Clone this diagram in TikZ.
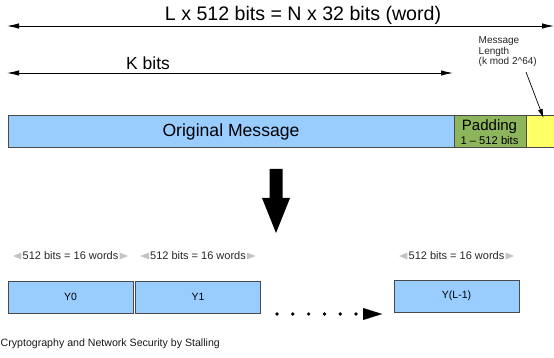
\documentclass[tikz,border=0pt]{standalone}
\usepackage{fontspec}
\setmainfont{Liberation Sans}
\usetikzlibrary{arrows.meta}
\definecolor{blk}{HTML}{99CCFF}
\definecolor{grn}{HTML}{8DB55C}
\definecolor{ylw}{HTML}{FFFF66}
\definecolor{brd}{HTML}{4A4A4A}
\definecolor{lgray}{HTML}{C4C4C4}
\begin{document}
\begin{tikzpicture}[x=1pt,y=-1pt,
  dim/.style={draw=black,line width=0.9pt,{Latex[length=12pt,width=5.5pt]}-{Latex[length=12pt,width=5.5pt]}},
  seg/.style={draw=brd,line width=0.9pt,minimum height=32pt,inner sep=0pt,anchor=center},
  blockbox/.style={draw=brd,line width=0.9pt,fill=blk,minimum width=125pt,minimum height=32pt,inner sep=0pt,font=\fontsize{10.5}{12}\selectfont},
  wlabel/.style={inner sep=0.5pt,text=black!85,font=\fontsize{11}{13}\selectfont},
]
\useasboundingbox (0,0) rectangle (554,358);

% top dimension
\coordinate (tl) at (7,26);
\coordinate (tr) at (554,26);
\draw[dim] (tl) -- (tr);
\node[font=\fontsize{19.6}{22}\selectfont] (ttxt) at (303,15) {L x 512 bits = N x 32 bits (word)};

% K bits
\coordinate (kl) at (7,73);
\coordinate (kr) at (453,73);
\draw[dim] (kl) -- (kr);
\node[font=\fontsize{17.5}{20}\selectfont] (ktxt) at (148,63) {K bits};

% message bar
\node[seg,fill=blk,minimum width=446pt] (om) at (231,131) {};
\node[inner sep=0pt,font=\fontsize{17.6}{20}\selectfont] (omt) at (231,132) {Original Message};
\node[seg,fill=grn,minimum width=72pt] (pad) at (490,131) {};
\node[inner sep=0pt,font=\fontsize{15}{16}\selectfont] (padt) at (489.5,126.5) {Padding};
\node[inner sep=0pt,font=\fontsize{11.2}{12}\selectfont] (pads) at (489.5,140) {1 -- 512 bits};
\node[seg,fill=ylw,minimum width=40pt] (len) at (546,131) {};

% message length note
\node[anchor=north west,align=left,inner sep=0pt,font=\fontsize{10}{10.6}\selectfont,text=black!85] (mlen) at (478.5,36.5)
  {Message\\Length\\(k mod 2\textasciicircum 64)};
\coordinate (ma) at (526,72);
\coordinate (mb) at (543.5,118);
\draw[line width=0.7pt,-{Latex[length=9pt,width=5pt]}] (ma) -- (mb);

% big down arrow
\fill[black] (269.5,169) -- (282.5,169) -- (282.5,198) -- (290,198) -- (276,233) -- (262,198) -- (269.5,198) -- cycle;

% blocks
\node[blockbox] (y0) at (70.5,297) {Y0};
\node[blockbox] (y1) at (198,297) {Y1};
\node[blockbox] (yl) at (456.5,296) {Y(L-1)};

% word labels
\foreach \n/\x in {l0/70.5,l1/198,l2/456.5}{
  \node[wlabel] (\n) at (\x,256) {512 bits = 16 words};
  \fill[lgray] ([xshift=-0.5pt]\n.west) ++(0,-3.5) -- ++(0,7) -- ++(-8.5,-3.5) -- cycle;
  \fill[lgray] ([xshift=0.5pt]\n.east) ++(0,-3.5) -- ++(0,7) -- ++(8.5,-3.5) -- cycle;
}

% dotted arrow
\coordinate (d0) at (277,314);
\coordinate (d1) at (382,314);
\draw[line width=3.7pt,line cap=round,dash pattern=on 0pt off 15.8pt,
  -{Triangle[length=19pt,width=12pt,line width=0.1pt]}] (d0) -- (d1);

% credit
\node[anchor=west,inner sep=0pt,font=\fontsize{10.6}{12}\selectfont,text=black!90] (cred) at (0.5,344)
  {Cryptography and Network Security by Stalling};
\end{tikzpicture}
\end{document}
